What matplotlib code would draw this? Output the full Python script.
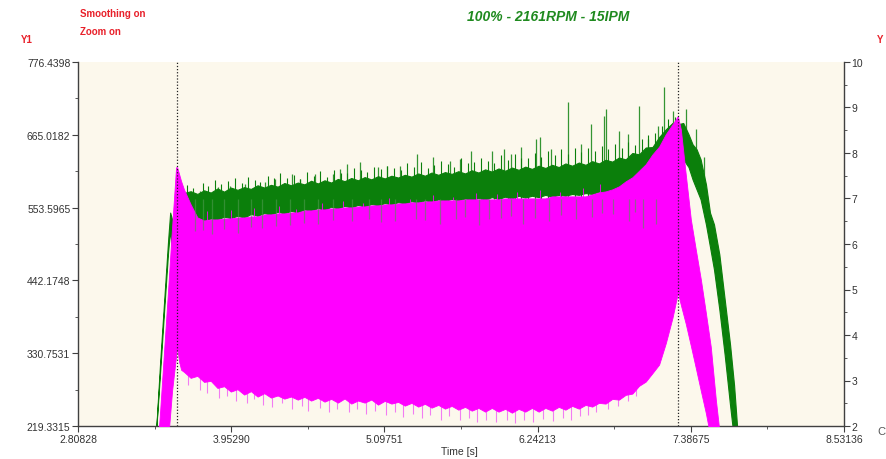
import numpy as np
import matplotlib
matplotlib.use('Agg')
import matplotlib.pyplot as plt
from matplotlib.ticker import FixedLocator, NullFormatter

plt.rcParams['font.family'] = ['Liberation Sans', 'DejaVu Sans']

# axis scales as shown on the recorder screen
x_ticks = [2.80828, 3.95290, 5.09751, 6.24213, 7.38675, 8.53136]
x_tick_labels = ['2.80828', '3.95290', '5.09751', '6.24213', '7.38675', '8.53136']
y1_ticks = [219.3315, 330.7531, 442.1748, 553.5965, 665.0182, 776.4398]
y1_tick_labels = ['219.3315', '330.7531', '442.1748', '553.5965', '665.0182', '776.4398']
y2_ticks = [2, 3, 4, 5, 6, 7, 8, 9, 10]
cursor_times = [3.549, 7.290]

# magenta trace (Y1) : envelope of the dense oscillation
mag_t = [3.407, 3.422, 3.452, 3.482, 3.511, 3.541, 3.549, 3.564, 3.579,
         3.60, 3.65, 3.70, 3.75, 3.80, 3.85, 3.90, 3.95,
         4.00, 4.05, 4.10, 4.15, 4.20, 4.25, 4.30, 4.35, 4.40, 4.45,
         4.50, 4.55, 4.60, 4.65, 4.70, 4.75, 4.80, 4.85, 4.90, 4.95,
         5.00, 5.05, 5.10, 5.15, 5.20, 5.25, 5.30, 5.35, 5.40, 5.45,
         5.50, 5.55, 5.60, 5.65, 5.70, 5.75, 5.80, 5.85, 5.90, 5.95,
         6.00, 6.05, 6.10, 6.15, 6.20, 6.25, 6.30, 6.35, 6.40, 6.45,
         6.50, 6.55, 6.60, 6.65, 6.70, 6.75, 6.80, 6.85, 6.90, 6.95,
         7.00, 7.05, 7.10, 7.15, 7.20, 7.25,
         7.290, 7.312, 7.349, 7.387, 7.424, 7.462, 7.499, 7.536, 7.574, 7.596, 7.611]
mag_lo = [200.0, 200.0, 200.0, 200.0, 273.0, 326.8, 340.6, 317.5, 305.3,
          302.2, 293.0, 296.1, 286.8, 288.4, 277.6, 280.2, 272.0,
          275.6, 267.4, 272.6, 264.3, 269.5, 262.8, 266.0, 261.2, 264.4, 259.7,
          263.9, 258.2, 262.4, 256.6, 260.8, 255.1, 261.4, 253.6, 258.3, 255.1,
          259.8, 252.0, 257.8, 253.6, 256.2, 250.5, 254.7, 249.0, 253.2, 247.4,
          251.6, 245.9, 250.1, 244.3, 248.6, 242.8, 247.0, 241.3, 247.0, 241.3,
          245.5, 239.7, 245.5, 241.3, 247.0, 241.3, 247.0, 242.8, 248.6, 244.3,
          250.1, 245.9, 251.6, 249.0, 254.7, 253.6, 260.8, 259.7, 267.0, 268.9,
          280.8, 287.3, 300.2, 313.4, 346.2, 385.1,
          423.4, 405.0, 375.9, 342.1, 308.3, 273.0, 239.3, 200.0, 200.0, 200.0, 200.0]
mag_hi = [200.0, 242.4, 336.0, 429.6, 523.2, 615.3, 615.3, 604.5, 593.8,
          581.5, 558.5, 538.6, 533.9, 535.5, 535.5, 537.0, 537.0,
          538.5, 538.5, 540.1, 540.1, 543.2, 543.2, 544.7, 544.7, 546.2, 546.2,
          549.3, 549.3, 550.8, 550.8, 552.4, 552.4, 553.9, 553.9, 555.4, 555.4,
          557.0, 557.0, 558.5, 558.5, 560.0, 560.0, 561.6, 561.6, 563.1, 563.1,
          564.6, 564.6, 564.6, 564.6, 566.2, 566.2, 566.2, 566.2, 566.2, 566.2,
          567.7, 567.7, 567.7, 567.7, 567.7, 567.7, 567.7, 570.8, 570.8, 570.8,
          570.8, 570.8, 570.8, 573.8, 576.9, 578.4, 581.5, 586.1, 593.8, 600.0,
          610.0, 620.0, 635.0, 647.0, 666.0, 681.0,
          693.6, 673.6, 604.5, 535.5, 489.4, 443.4, 392.8, 340.6, 259.2, 219.3, 200.0]

# short downward hairs on the lower magenta edge (Y1)
mag_hair_t = [3.63, 3.72, 3.77, 3.86, 3.92, 3.99, 4.07, 4.12, 4.19, 4.26,
              4.33, 4.41, 4.48, 4.53, 4.62, 4.68, 4.74, 4.83, 4.89, 4.96,
              5.03, 5.11, 5.18, 5.24, 5.31, 5.38, 5.44, 5.52, 5.58, 5.66,
              5.73, 5.79, 5.86, 5.93, 6.01, 6.07, 6.14, 6.21, 6.28, 6.36,
              6.43, 6.49, 6.56, 6.62, 6.68, 6.77, 6.84, 6.92, 6.98]
mag_hair_low = [282, 275, 270, 262, 266, 258, 255, 260, 252, 249,
                254, 246, 250, 243, 247, 241, 245, 240, 246, 238,
                242, 236, 240, 233, 238, 231, 236, 229, 234, 228,
                231, 226, 229, 225, 229, 224, 228, 226, 230, 227,
                232, 229, 234, 236, 241, 245, 250, 258, 266]
# short upward hairs of magenta reaching into the green band (Y1)
mag_up_t = [3.77, 3.95, 4.12, 4.31, 4.44, 4.63, 4.79, 4.94, 5.13, 5.29,
            5.46, 5.61, 5.78, 5.94, 6.09, 6.26, 6.41, 6.58, 6.71]
mag_up_top = [548, 550, 553, 556, 552, 560, 563, 561, 568, 566,
              573, 570, 576, 574, 578, 580, 577, 584, 590]

# green trace (Y2)
grn_t = [3.392, 3.422, 3.452, 3.482, 3.497, 3.511, 3.526, 3.541, 3.549, 3.564, 3.579,
         3.60, 3.65, 3.70, 3.75, 3.80, 3.85, 3.90, 3.95,
         4.00, 4.05, 4.10, 4.15, 4.20, 4.25, 4.30, 4.35, 4.40, 4.45,
         4.50, 4.55, 4.60, 4.65, 4.70, 4.75, 4.80, 4.85, 4.90, 4.95,
         5.00, 5.05, 5.10, 5.15, 5.20, 5.25, 5.30, 5.35, 5.40, 5.45,
         5.50, 5.55, 5.60, 5.65, 5.70, 5.75, 5.80, 5.85, 5.90, 5.95,
         6.00, 6.05, 6.10, 6.15, 6.20, 6.25, 6.30, 6.35, 6.40, 6.45,
         6.50, 6.55, 6.60, 6.65, 6.70, 6.75, 6.80, 6.85, 6.90, 6.95,
         7.00, 7.05, 7.10, 7.15, 7.20, 7.25,
         7.29, 7.33, 7.37, 7.40, 7.43, 7.46, 7.50, 7.53, 7.56, 7.60, 7.64, 7.68, 7.71, 7.74]
grn_lo = [1.90, 3.20, 4.55, 5.85, 6.30, 5.88, 5.37, 5.55, 5.88, 6.43, 6.45,
          6.50, 6.47, 6.54, 6.52, 6.56, 6.54, 6.60, 6.57,
          6.62, 6.58, 6.66, 6.62, 6.68, 6.64, 6.71, 6.67, 6.73, 6.69,
          6.76, 6.73, 6.79, 6.75, 6.82, 6.78, 6.84, 6.80, 6.86, 6.82,
          6.88, 6.85, 6.90, 6.87, 6.92, 6.89, 6.94, 6.91, 6.96, 6.93,
          6.98, 6.95, 6.99, 6.96, 7.00, 6.97, 7.01, 6.98, 7.03, 6.99,
          7.04, 7.00, 7.06, 7.02, 7.06, 7.03, 7.08, 7.04, 7.08, 7.06,
          7.10, 7.08, 7.12, 7.10, 7.15, 7.13, 7.18, 7.17, 7.22, 7.25,
          7.33, 7.42, 7.51, 7.69, 7.86, 8.04,
          8.08, 7.86, 7.69, 7.42, 7.20, 6.98, 6.43, 5.94, 5.44, 4.56, 3.56, 2.46, 1.69, 1.58]
grn_hi = [1.90, 3.40, 4.75, 6.10, 6.69, 6.54, 6.20, 6.43, 7.20, 7.16, 7.25,
          7.12, 7.16, 7.10, 7.18, 7.13, 7.22, 7.15, 7.24,
          7.19, 7.25, 7.21, 7.29, 7.24, 7.30, 7.26, 7.34, 7.29, 7.35,
          7.31, 7.39, 7.33, 7.40, 7.35, 7.43, 7.38, 7.45, 7.40, 7.47,
          7.42, 7.49, 7.44, 7.50, 7.46, 7.52, 7.48, 7.55, 7.50, 7.57,
          7.52, 7.58, 7.54, 7.60, 7.55, 7.62, 7.57, 7.64, 7.59, 7.66,
          7.61, 7.68, 7.63, 7.70, 7.65, 7.72, 7.67, 7.74, 7.69, 7.77,
          7.72, 7.79, 7.74, 7.82, 7.77, 7.85, 7.81, 7.90, 7.86, 8.00,
          7.97, 8.12, 8.13, 8.35, 8.52, 8.66,
          8.63, 8.66, 8.41, 8.19, 8.08, 7.86, 7.31, 6.69, 6.43, 5.77, 4.78, 3.79, 2.90, 1.69]

# short hairs on top of the green band (Y2)
hair_t = [3.62, 3.67, 3.74, 3.78, 3.83, 3.88, 3.93, 3.98, 4.03, 4.08,
          4.13, 4.17, 4.23, 4.27, 4.32, 4.37, 4.42, 4.47, 4.52, 4.57,
          4.62, 4.67, 4.72, 4.77, 4.82, 4.87, 4.92, 4.97, 5.02, 5.07,
          5.12, 5.17, 5.22, 5.27, 5.32, 5.37, 5.42, 5.47, 5.52, 5.57,
          5.62, 5.67, 5.72, 5.77, 5.82, 5.87, 5.92, 5.97, 6.02, 6.07,
          6.12, 6.17, 6.22, 6.27, 6.32, 6.37, 6.42, 6.47, 6.52, 6.57,
          6.62, 6.67, 6.72, 6.77, 6.82, 6.87, 6.92, 6.97, 7.02, 7.07,
          7.12, 7.17, 7.22, 7.27]
hair_top = [7.30, 7.22, 7.35, 7.28, 7.40, 7.31, 7.38, 7.45, 7.33, 7.47,
            7.41, 7.36, 7.50, 7.44, 7.55, 7.46, 7.52, 7.42, 7.58, 7.50,
            7.60, 7.48, 7.62, 7.57, 7.55, 7.68, 7.62, 7.58, 7.70, 7.64,
            7.72, 7.66, 7.63, 7.78, 7.70, 7.80, 7.68, 7.73, 7.82, 7.75,
            7.70, 7.88, 7.78, 7.80, 7.90, 7.82, 7.78, 7.95, 7.85, 7.98,
            7.88, 7.90, 8.00, 7.92, 8.05, 7.95, 8.08, 7.98, 8.10, 8.02,
            8.12, 8.05, 8.15, 8.08, 8.20, 8.12, 8.25, 8.18, 8.30, 8.40,
            8.45, 8.60, 8.75, 8.80]

# isolated upward peaks of the green trace (Y2)
peak_t = [3.721, 3.856, 3.945, 4.058, 4.207, 4.282, 4.409, 4.469, 4.581, 4.716,
          4.768, 4.821, 4.918, 5.053, 5.120, 5.217, 5.344, 5.457, 5.591, 5.666,
          5.741, 5.905, 5.988, 6.040, 6.115, 6.227, 6.257, 6.339, 6.467, 6.564,
          6.639, 6.736, 6.751, 6.848, 6.915, 6.998, 7.065, 7.140, 7.185, 7.252,
          7.349, 7.424, 7.484]
peak_top = [7.16, 7.25, 7.27, 7.31, 7.36, 7.42, 7.53, 7.42, 7.53, 7.53,
            7.64, 7.75, 7.80, 7.69, 7.71, 7.71, 7.97, 7.91, 7.82, 7.86,
            8.04, 8.04, 8.08, 7.97, 8.13, 8.30, 8.35, 8.08, 9.12, 8.19,
            8.63, 8.81, 8.96, 8.48, 8.41, 9.03, 8.30, 8.59, 9.45, 8.92,
            8.96, 8.52, 7.91]
peak_base = [6.90, 6.90, 6.90, 6.90, 6.95, 6.95, 7.00, 7.00, 7.00, 7.05,
             7.05, 7.05, 7.10, 7.10, 7.10, 7.15, 7.15, 7.15, 7.20, 7.20,
             7.20, 7.25, 7.25, 7.25, 7.25, 7.30, 7.30, 7.30, 7.30, 7.35,
             7.35, 7.40, 7.40, 7.40, 7.45, 7.50, 7.60, 7.80, 8.00, 8.20,
             8.10, 7.80, 7.20]

# faint downward dips of the green trace (Y2)
dip_t = [3.684, 3.74, 3.811, 3.90, 4.005, 4.10, 4.185, 4.29, 4.394, 4.50,
         4.604, 4.71, 4.858, 4.98, 5.07, 5.180, 5.33, 5.40, 5.516, 5.629,
         5.70, 5.801, 5.88, 5.965, 6.04, 6.130, 6.22, 6.324, 6.42, 6.526,
         6.65, 6.72, 6.803, 6.923, 6.97, 7.028, 7.125]
dip_low = [6.28, 6.30, 6.21, 6.33, 6.25, 6.38, 6.36, 6.40, 6.41, 6.47,
           6.45, 6.52, 6.50, 6.55, 6.48, 6.50, 6.56, 6.52, 6.43, 6.54,
           6.60, 6.41, 6.55, 6.58, 6.62, 6.45, 6.58, 6.50, 6.63, 6.54,
           6.60, 6.68, 6.65, 6.50, 6.70, 6.36, 6.43]

GREEN = '#0b7f0b'
MAGENTA = '#ff00ff'

fig = plt.figure(figsize=(8.86, 4.6), dpi=100)
ax = fig.add_axes([78 / 886, 1 - 427 / 460, (844 - 78) / 886, (427 - 63) / 460])
ax.set_facecolor('#fcf8ec')
ax2 = ax.twinx()

ax.set_xlim(x_ticks[0], x_ticks[-1])
ax.set_ylim(y1_ticks[0], y1_ticks[-1])
ax2.set_ylim(2, 10)

# green is drawn in Y2 units, but inside ax so magenta can sit on top of it
tr2 = ax2.transData
ax.vlines(peak_t, peak_base, peak_top, colors='#1e8a1e', lw=0.9, alpha=0.9, transform=tr2, zorder=2)
ax.vlines(hair_t, 7.0, hair_top, colors=GREEN, lw=0.8, transform=tr2, zorder=2)
ax.fill_between(grn_t, grn_lo, grn_hi, color=GREEN, lw=0.8, transform=tr2, zorder=2.2)

ax.vlines(mag_hair_t, mag_hair_low, 300, colors='#f27cf2', lw=0.8, zorder=2.9)
ax.fill_between(mag_t, mag_lo, mag_hi, color=MAGENTA, lw=0.6, zorder=3)
ax.vlines(mag_up_t, 520, mag_up_top, colors=MAGENTA, lw=0.6, zorder=3)
ax.vlines(dip_t, dip_low, 7.0, colors='#4f9a4f', lw=0.9, alpha=0.6, transform=tr2, zorder=4)

for t in cursor_times:
    ax.axvline(t, color='#222222', lw=0.9, ls=(0, (1, 1.5)), zorder=5)

# axes cosmetics
tick_kw = dict(labelsize=7.5, labelcolor='#333333', color='#404040')
ax.xaxis.set_major_locator(FixedLocator(x_ticks))
ax.set_xticklabels(x_tick_labels)
ax.xaxis.set_minor_locator(FixedLocator(np.linspace(x_ticks[0], x_ticks[-1], 11)))
ax.yaxis.set_major_locator(FixedLocator(y1_ticks))
ax.set_yticklabels(y1_tick_labels)
ax.yaxis.set_minor_locator(FixedLocator(np.linspace(y1_ticks[0], y1_ticks[-1], 11)))
ax.xaxis.set_minor_formatter(NullFormatter())
ax.yaxis.set_minor_formatter(NullFormatter())
ax.tick_params(which='major', length=4, pad=1.5, **tick_kw)
ax.tick_params(which='minor', length=2, color='#404040')

ax2.yaxis.set_major_locator(FixedLocator(y2_ticks))
ax2.yaxis.set_minor_locator(FixedLocator(np.arange(2, 10.01, 0.5)))
ax2.yaxis.set_minor_formatter(NullFormatter())
ax2.tick_params(which='major', length=4, pad=1.5, **tick_kw)
ax2.tick_params(which='minor', length=2, color='#404040')

for a in (ax, ax2):
    a.spines['top'].set_visible(False)
    for s in a.spines.values():
        s.set_color('#404040')
        s.set_linewidth(1.0)
ax.spines['right'].set_visible(False)
ax2.spines['left'].set_visible(False)
ax2.spines['bottom'].set_visible(False)

# header / labels
def px(x, y):
    return x / 886, 1 - y / 460

fig.text(*px(80, 14), 'Smoothing on', color='#e8202a', fontsize=7, fontweight='bold', va='center')
fig.text(*px(80, 32), 'Zoom on', color='#e8202a', fontsize=7, fontweight='bold', va='center')
fig.text(*px(27, 40), 'Y1', color='#e8202a', fontsize=7, fontweight='bold', ha='center', va='center')
fig.text(*px(877, 40), 'Y', color='#e8202a', fontsize=7, fontweight='bold', va='center')
fig.text(*px(548, 17), '100% - 2161RPM - 15IPM', color='#1f8a1f', fontsize=10,
         fontweight='bold', fontstyle='italic', ha='center', va='center')
fig.text(*px(441, 452), 'Time [s]', color='#333333', fontsize=7.5, va='center')
fig.text(*px(877, 432), 'C', color='#555555', fontsize=8, va='center')

fig.savefig('out.png', dpi=100, facecolor='white')
